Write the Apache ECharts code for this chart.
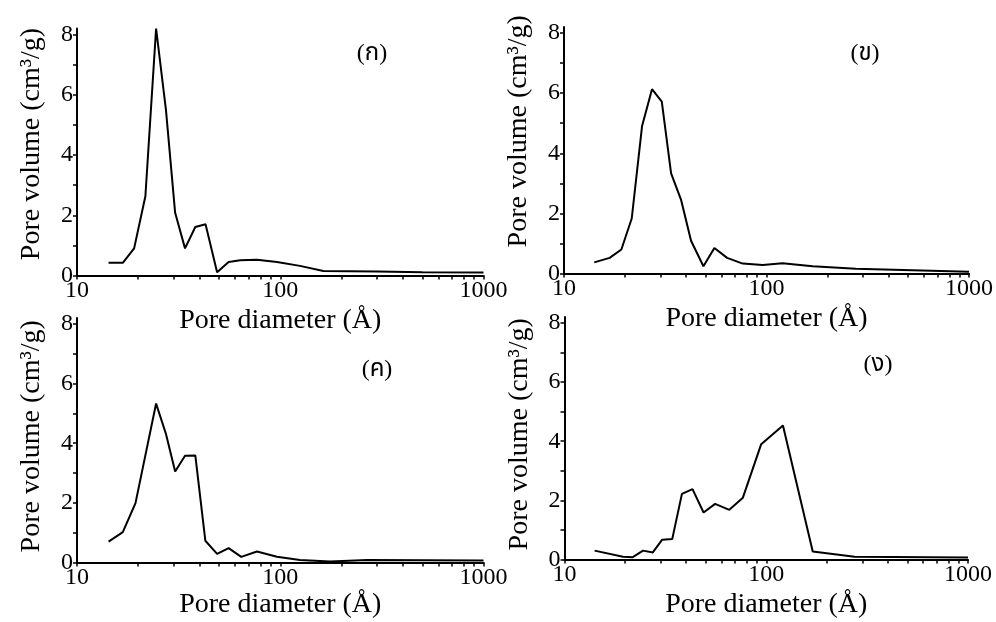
<!DOCTYPE html>
<html>
<head>
<meta charset="utf-8">
<script src="https://cdn.jsdelivr.net/npm/echarts@6/dist/echarts.min.js"></script>
<style>
html,body{margin:0;padding:0;background:#fff;}
#chart{width:996px;height:622px;}
</style>
</head>
<body>
<div id="chart"></div>
<script>
// ---- data ----
const x1 = [14.3,16.8,19.1,21.7,24.5,27.4,30.4,34.0,38.2,42.9,48.9,55.7,63.6,76.8,96.3,125,163,300,500,1000];
const y1 = [0.42,0.42,0.90,2.63,8.2,5.49,2.08,0.90,1.61,1.70,0.11,0.45,0.51,0.52,0.45,0.32,0.15,0.13,0.11,0.10];

const x2 = [14.1,16.8,19.2,21.6,24.3,27.2,30.4,33.8,37.9,42.4,48.8,55.3,63.9,76.3,95.8,120,169,276,1000];
const y2 = [0.37,0.52,0.80,1.83,4.91,6.13,5.72,3.33,2.44,1.09,0.24,0.85,0.52,0.33,0.28,0.34,0.24,0.16,0.06];

const x3 = [14.3,16.8,19.4,24.5,27.4,30.4,34.0,38.2,42.8,48.9,55.7,64.3,76.8,96.3,125,176,267,1000];
const y3 = [0.70,1.02,1.99,5.33,4.31,3.05,3.58,3.59,0.73,0.29,0.48,0.19,0.37,0.19,0.08,0.03,0.08,0.07];

const x4 = [14.1,19.5,21.8,24.5,27.4,30.5,34.2,38.2,43.1,48.9,55.8,65.6,76.6,94.4,121,170,274,1000];
const y4 = [0.30,0.09,0.08,0.30,0.24,0.67,0.69,2.22,2.38,1.59,1.88,1.68,2.09,3.90,4.53,0.27,0.09,0.07];

const panelLabels = ['(ก)', '(ข)', '(ค)', '(ง)'];
const xTickLabels = [10, 100, 1000];
const xTickValues = [10,20,30,40,50,60,70,80,90,100,200,300,400,500,600,700,800,900,1000];
const yTickLabels = [0, 2, 4, 6, 8];
const yTickValues = [0,1,2,3,4,5,6,7,8];
const xTitle = 'Pore diameter (Å)';
const yTitle = 'Pore volume (cm³/g)';

// ---- layout ----
const FONT = "'Liberation Serif', 'Times New Roman', serif";
const grids = [
  {left: 77, top: 28.5, width: 406.5, height: 247},
  {left: 564, top: 27, width: 405.5, height: 246.5},
  {left: 77, top: 318, width: 406.5, height: 244.5},
  {left: 564.5, top: 317, width: 403.5, height: 242.5}
];
const xNameGaps = [31, 31, 27, 31];
const yNamePads = [[0,0,0,16],[0,0,0,38],[0,0,0,8],[0,0,0,8]];
const labelPos = [[372,54],[865,54],[377,370],[878,365]];
const xs = [x1,x2,x3,x4], ys = [y1,y2,y3,y4];

const axisLine = {show: true, onZero: false, lineStyle: {color: '#000', width: 2}};
const xAxes = grids.map((g, i) => ({
  type: 'log', logBase: 10, gridIndex: i, min: 10, max: 1000,
  name: xTitle, nameLocation: 'middle', nameGap: xNameGaps[i],
  nameTextStyle: {fontFamily: FONT, fontSize: 28, color: '#000'},
  axisLine: axisLine,
  axisTick: {show: true, inside: false, length: 4, customValues: xTickValues, lineStyle: {color: '#000', width: 1.5}},
  minorTick: {show: false},
  axisLabel: {show: true, customValues: xTickLabels, margin: 3, fontFamily: FONT, fontSize: 24, color: '#000',
    formatter: v => String(Math.round(v))},
  splitLine: {show: false}
}));
const yAxes = grids.map((g, i) => ({
  type: 'value', gridIndex: i, min: 0, max: 8.2,
  name: yTitle, nameLocation: 'middle', nameGap: 31, nameRotate: 90,
  nameTextStyle: {fontFamily: FONT, fontSize: 28, color: '#000', padding: yNamePads[i]},
  axisLine: axisLine,
  axisTick: {show: true, inside: false, length: 4, customValues: yTickValues, lineStyle: {color: '#000', width: 1.5}},
  axisLabel: {show: true, customValues: yTickLabels, margin: 4, fontFamily: FONT, fontSize: 24, color: '#000'},
  splitLine: {show: false}
}));
const series = grids.map((g, i) => ({
  type: 'line', xAxisIndex: i, yAxisIndex: i,
  data: xs[i].map((x, k) => [x, ys[i][k]]),
  showSymbol: false, symbol: 'none', smooth: false, clip: false,
  lineStyle: {color: '#000', width: 2}
}));
const graphics = panelLabels.map((t, i) => ({
  type: 'text', x: labelPos[i][0], y: labelPos[i][1],
  style: {text: t, fontFamily: "'Liberation Serif', 'Noto Sans Thai', 'Noto Serif Thai', 'DejaVu Sans', serif", fontSize: 24, fill: '#000', textAlign: 'center', textVerticalAlign: 'middle'}
}));

const chart = echarts.init(document.getElementById('chart'), null, {renderer: 'canvas'});
chart.setOption({
  animation: false,
  backgroundColor: '#fff',
  grid: grids,
  xAxis: xAxes,
  yAxis: yAxes,
  series: series,
  graphic: graphics
});
</script>
</body>
</html>
